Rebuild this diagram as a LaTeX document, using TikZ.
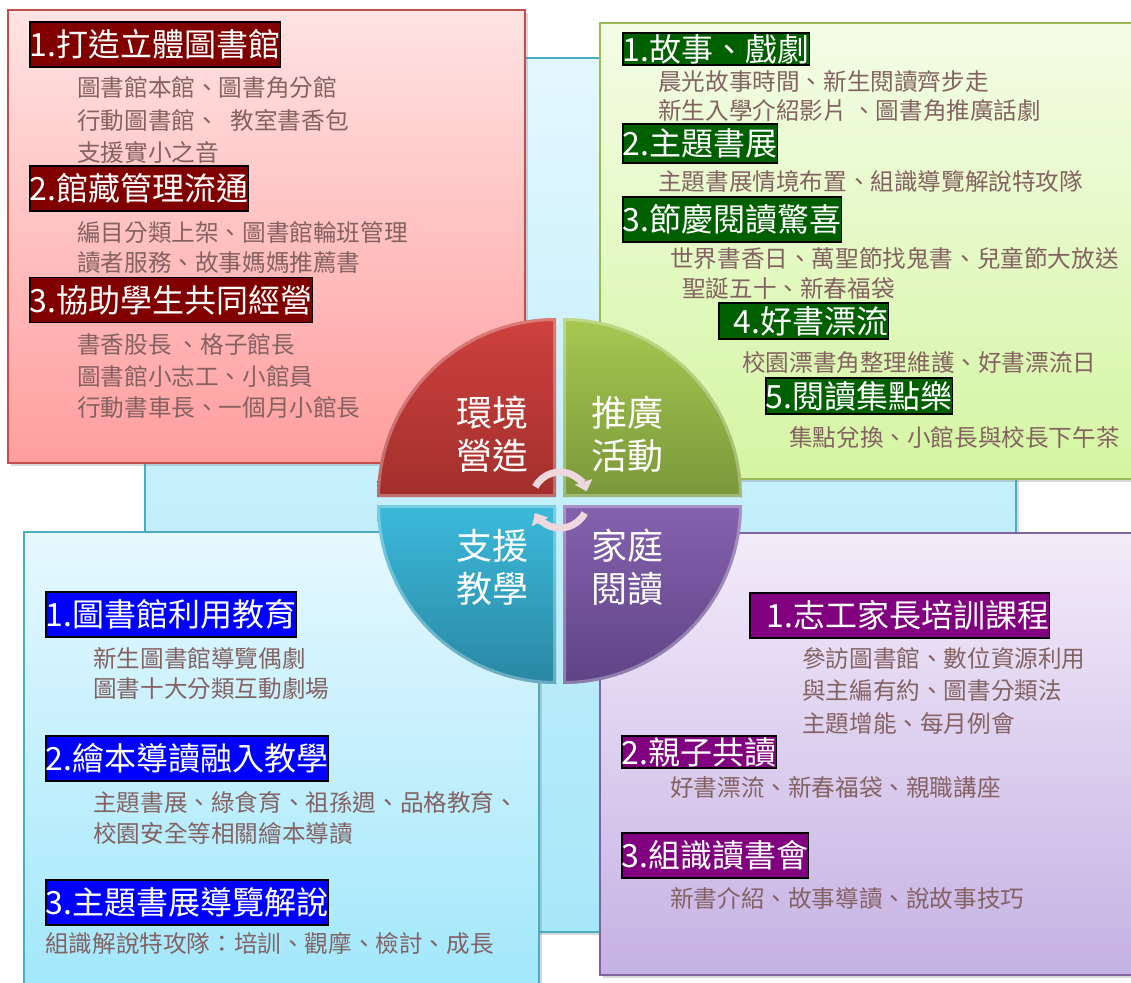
\documentclass[tikz,border=0pt]{standalone}
\usepackage{fontspec}
\setmainfont{Noto Sans CJK TC}
\usetikzlibrary{shadows}
\usetikzlibrary{arrows.meta}

\definecolor{bgtop}{HTML}{E3F7FD}
\definecolor{bgbot}{HTML}{A6E7F9}
\definecolor{bgline}{HTML}{4BACC6}
\definecolor{redline}{HTML}{C0504D}
\definecolor{redtop}{HTML}{FFE3E3}
\definecolor{redbot}{HTML}{FF9E9E}
\definecolor{greenline}{HTML}{9BBB59}
\definecolor{greentop}{HTML}{F3FDE6}
\definecolor{greenbot}{HTML}{D5F5A2}
\definecolor{blueline}{HTML}{4BACC6}
\definecolor{bluetop}{HTML}{E6F8FE}
\definecolor{bluebot}{HTML}{A0E7FB}
\definecolor{purpleline}{HTML}{8064A2}
\definecolor{purpletop}{HTML}{F2ECF9}
\definecolor{purplebot}{HTML}{C6B1E4}
\definecolor{headred}{HTML}{800000}
\definecolor{headgreen}{HTML}{006000}
\definecolor{headblue}{HTML}{0000FF}
\definecolor{headpurple}{HTML}{800080}
\definecolor{bodytxt}{HTML}{846262}
\definecolor{qredtop}{HTML}{CE413E}
\definecolor{qredbot}{HTML}{A22F2C}
\definecolor{qgreentop}{HTML}{A6C852}
\definecolor{qgreenbot}{HTML}{7A983A}
\definecolor{qbluetop}{HTML}{3CBADB}
\definecolor{qbluebot}{HTML}{2987A3}
\definecolor{qpurpletop}{HTML}{8562AE}
\definecolor{qpurplebot}{HTML}{5F4386}
\definecolor{arrowpink}{HTML}{EFD8DD}

\begin{document}
\begin{tikzpicture}[x=1pt, y=-1pt,
  head/.style={draw=black, line width=1.5pt, text=white, inner xsep=0pt, inner ysep=0pt,
    minimum height=45pt, anchor=west, font=\fontsize{32}{36}\selectfont},
  redhead/.style={head, fill=headred},
  greenhead/.style={head, fill=headgreen},
  bluehead/.style={head, fill=headblue},
  purplehead/.style={head, fill=headpurple},
  txt/.style={anchor=west, inner sep=0pt, text=bodytxt, font=\fontsize{23.6}{28}\selectfont},
  quad/.style={text=white, align=center, inner sep=0pt, font=\fontsize{36}{43}\selectfont},
  panel/.style={line width=1.2pt, drop shadow={opacity=0.3, shadow xshift=3pt, shadow yshift=-3pt}},
  rim/.style={line width=6pt, white, opacity=0.3},
  cyc/.style={line width=7pt, draw=arrowpink, -{Triangle[length=10pt, width=18pt]}}]
\useasboundingbox (0,0) rectangle (1131,982);
\clip (0,0) rectangle (1131,982);

% background
\draw[panel, draw=bgline, top color=bgtop, bottom color=bgbot] (145,58) rectangle (1016,932);

% four panels
\draw[panel, draw=redline, top color=redtop, bottom color=redbot] (8,10) rectangle (525,463);
\draw[panel, draw=greenline, top color=greentop, bottom color=greenbot] (600,23) rectangle (1145,479);
\draw[panel, draw=blueline, top color=bluetop, bottom color=bluebot] (24,532) rectangle (539,1000);
\draw[panel, draw=purpleline, top color=purpletop, bottom color=purplebot] (600,533) rectangle (1145,975);

% circle, four quarters
\shade[top color=qredtop, bottom color=qredbot] (556,497) -- ++(-179,0) arc[start angle=180, end angle=270, radius=179] -- cycle;
\begin{scope}
\clip (556,497) -- ++(-179,0) arc[start angle=180, end angle=270, radius=179] -- cycle;
\draw[rim] (556,497) -- ++(-179,0) arc[start angle=180, end angle=270, radius=179] -- cycle;
\end{scope}

\shade[top color=qgreentop, bottom color=qgreenbot] (563,497) -- ++(0,-179) arc[start angle=270, end angle=360, radius=179] -- cycle;
\begin{scope}
\clip (563,497) -- ++(0,-179) arc[start angle=270, end angle=360, radius=179] -- cycle;
\draw[rim] (563,497) -- ++(0,-179) arc[start angle=270, end angle=360, radius=179] -- cycle;
\end{scope}

\shade[top color=qbluetop, bottom color=qbluebot] (556,505) -- ++(-179,0) arc[start angle=180, end angle=90, radius=179] -- cycle;
\begin{scope}
\clip (556,505) -- ++(-179,0) arc[start angle=180, end angle=90, radius=179] -- cycle;
\draw[rim] (556,505) -- ++(-179,0) arc[start angle=180, end angle=90, radius=179] -- cycle;
\end{scope}

\shade[top color=qpurpletop, bottom color=qpurplebot] (563,505) -- ++(179,0) arc[start angle=0, end angle=90, radius=179] -- cycle;
\begin{scope}
\clip (563,505) -- ++(179,0) arc[start angle=0, end angle=90, radius=179] -- cycle;
\draw[rim] (563,505) -- ++(179,0) arc[start angle=0, end angle=90, radius=179] -- cycle;
\end{scope}

\node[quad] (qenv) at (492,434) {環境\\營造};
\node[quad] (qpro) at (627,434) {推廣\\活動};
\node[quad] (qsup) at (492,567) {支援\\教學};
\node[quad] (qfam) at (627,567) {家庭\\閱讀};

% cycle arrows
\coordinate (mid) at (560,500);
\draw[cyc] (mid) ++(-152:28) arc[start angle=-152, end angle=-18, radius=28];
\draw[cyc] (mid) ++(28:28) arc[start angle=28, end angle=152, radius=28];

% red panel
\node[redhead] (r1) at (29,44.5) {1.打造立體圖書館};
\node[txt] (r1a) at (77,87) {圖書館本館、圖書角分館};
\node[txt] (r1b) at (77,120) {行動圖書館、\hspace{12pt}教室書香包};
\node[txt] (r1c) at (77,152) {支援實小之音};
\node[redhead] (r2) at (29,188.5) {2.館藏管理流通};
\node[txt] (r2a) at (77,232) {編目分類上架、圖書館輪班管理};
\node[txt] (r2b) at (77,263) {讀者服務、故事媽媽推薦書};
\node[redhead] (r3) at (29,300) {3.協助學生共同經營};
\node[txt] (r3a) at (77,344) {書香股長 、格子館長};
\node[txt] (r3b) at (77,376) {圖書館小志工、小館員};
\node[txt] (r3c) at (77,407) {行動書車長、一個月小館長};

% green panel
\node[greenhead, minimum height=32pt] (g1) at (622,49) {1.故事、戲劇};
\node[txt] (g1a) at (658,82) {晨光故事時間、新生閱讀齊步走};
\node[txt] (g1b) at (658,111) {新生入學介紹影片 、圖書角推廣話劇};
\node[greenhead, minimum height=39pt] (g2) at (622,143.5) {2.主題書展};
\node[txt] (g2a) at (658,182) {主題書展情境布置、組識導覽解說特攻隊};
\node[greenhead] (g3) at (622,219.5) {3.節慶閱讀驚喜};
\node[txt] (g3a) at (670,258) {世界書香日、萬聖節找鬼書、兒童節大放送};
\node[txt] (g3b) at (682,288) {聖誕五十、新春福袋};
\node[greenhead, minimum height=36pt] (g4) at (718,321) {\hspace*{15pt}4.好書漂流};
\node[txt] (g4a) at (742,363) {校園漂書角整理維護、好書漂流日};
\node[greenhead, minimum height=36pt] (g5) at (765,396) {5.閱讀集點樂};
\node[txt] (g5a) at (789,438) {集點兌換、小館長與校長下午茶};

% blue panel
\node[bluehead] (b1) at (45,614.5) {1.圖書館利用教育};
\node[txt] (b1a) at (93,658) {新生圖書館導覽偶劇};
\node[txt] (b1b) at (93,689) {圖書十大分類互動劇場};
\node[bluehead] (b2) at (45,758.5) {2.繪本導讀融入教學};
\node[txt] (b2a) at (93,802) {主題書展、綠食育、祖孫週、品格教育、};
\node[txt] (b2b) at (93,833) {校園安全等相關繪本導讀};
\node[bluehead] (b3) at (45,902.5) {3.主題書展導覽解說};
\node[txt] (b3a) at (45,944) {組識解說特攻隊：培訓、觀摩、檢討、成長};

% purple panel
\node[purplehead] (p1) at (749,615.5) {\hspace*{17pt}1.志工家長培訓課程};
\node[txt] (p1a) at (802,658) {參訪圖書館、數位資源利用};
\node[txt] (p1b) at (802,691) {與主編有約、圖書分類法};
\node[txt] (p1c) at (802,723) {主題增能、每月例會};
\node[purplehead, minimum height=32pt] (p2) at (621,752) {2.親子共讀};
\node[txt] (p2a) at (670,787) {好書漂流、新春福袋、親職講座};
\node[purplehead] (p3) at (621,855.5) {3.組識讀書會};
\node[txt] (p3a) at (670,898) {新書介紹、故事導讀、說故事技巧};
\end{tikzpicture}
\end{document}
